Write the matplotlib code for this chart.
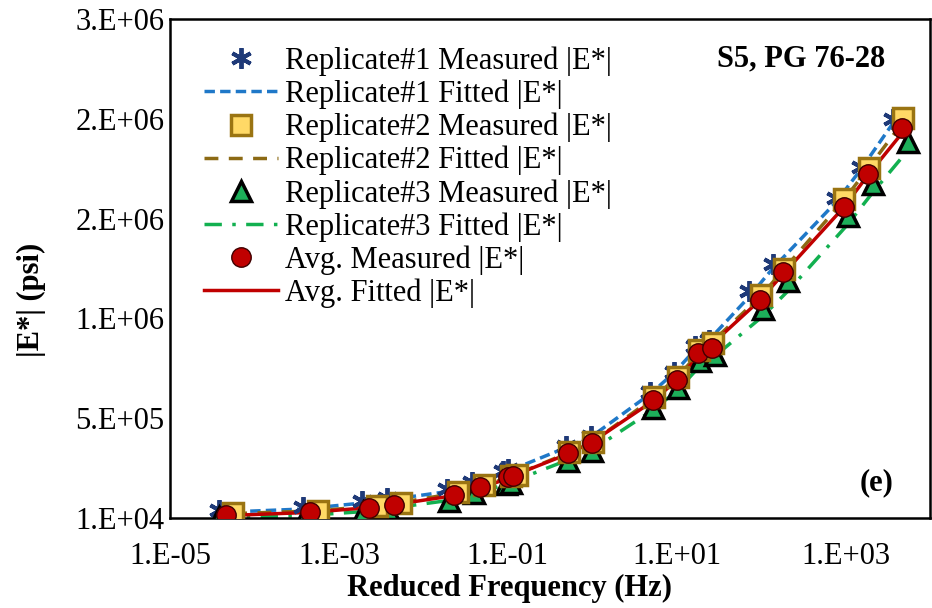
import matplotlib
matplotlib.use("Agg")
import matplotlib.pyplot as plt
from matplotlib.ticker import FixedLocator, FuncFormatter, NullLocator

plt.rcParams['font.family'] = ['Liberation Serif', 'DejaVu Serif']

# reduced frequency (Hz) and |E*| (psi)
f_avg = [4.6e-5, 4.5e-4, 2.26e-3, 4.5e-3, 2.3e-2, 4.7e-2, 0.100, 0.115, 0.51, 0.99,
         5.2, 10.0, 17.7, 26.0, 96.0, 180.0, 946.0, 1820.0, 4600.0]
E_avg = [25000, 40000, 60000, 75000, 125000, 165000, 215000, 220000, 335000, 385000,
         600000, 700000, 835000, 860000, 1100000, 1240000, 1570000, 1735000, 1965000]
E_avg_fit = [22000, 38000, 62000, 77000, 122000, 160000, 208000, 222000, 330000, 390000,
             595000, 700000, 815000, 880000, 1100000, 1230000, 1565000, 1725000, 1935000]

f_rep1 = [3.8e-5, 3.75e-4, 1.87e-3, 3.7e-3, 1.9e-2, 3.75e-2, 0.087, 0.100, 0.485, 0.96,
          4.8, 9.2, 16.3, 23.9, 71.0, 137.0, 762.0, 1510.0, 3600.0]
E_rep1 = [50000, 65000, 95000, 110000, 155000, 190000, 245000, 255000, 370000, 420000,
          640000, 740000, 870000, 900000, 1145000, 1285000, 1615000, 1770000, 2010000]
E_rep1_fit = [38000, 55000, 85000, 100000, 142000, 180000, 232000, 244000, 362000, 415000,
              630000, 735000, 850000, 900000, 1115000, 1260000, 1590000, 1755000, 1985000]

f_rep2 = [5.6e-5, 5.6e-4, 2.8e-3, 5.4e-3, 2.56e-2, 5.2e-2, 0.109, 0.128, 0.53, 1.01,
          5.35, 10.3, 18.2, 26.7, 98.6, 185.0, 946.0, 1870.0, 4730.0]
E_rep2 = [35000, 45000, 70000, 85000, 140000, 175000, 220000, 225000, 340000, 390000,
          615000, 715000, 850000, 885000, 1125000, 1260000, 1610000, 1765000, 2015000]
E_rep2_fit = [32000, 46000, 72000, 88000, 136000, 172000, 218000, 230000, 338000, 392000,
              612000, 718000, 835000, 895000, 1120000, 1255000, 1600000, 1765000, 1990000]

f_rep3 = [3.8e-5, 3.96e-4, 1.92e-3, 3.8e-3, 2.0e-2, 3.96e-2, 0.095, 0.109, 0.51, 0.99,
          5.2, 10.3, 18.7, 28.2, 104.0, 211.0, 1057.0, 2090.0, 5420.0]
E_rep3 = [15000, 20000, 40000, 55000, 95000, 135000, 180000, 185000, 295000, 345000,
          560000, 660000, 795000, 825000, 1055000, 1195000, 1525000, 1685000, 1895000]
E_rep3_fit = [12000, 22000, 42000, 57000, 98000, 132000, 178000, 190000, 300000, 350000,
              550000, 650000, 770000, 820000, 1020000, 1150000, 1480000, 1640000, 1850000]

x_ticks = [1e-5, 1e-3, 1e-1, 1e1, 1e3]
y_ticks = [1e4, 5.1e5, 1.01e6, 1.51e6, 2.01e6, 2.51e6]

fig = plt.figure(figsize=(9.32, 6.08), dpi=100)
ax = fig.add_axes([170/932, 90/608, 760/932, 499/608])

ax.plot(f_rep1, E_rep1, linestyle='', marker=(6, 2, 0), markersize=15, markeredgewidth=2.8,
        color='#1F3A78', label='Replicate#1 Measured |E*|', zorder=3)
ax.plot(f_rep1, E_rep1_fit, linestyle=(0, (3, 1.5)), linewidth=2.5, color='#1F78C8',
        label='Replicate#1 Fitted |E*|', zorder=2)
ax.plot(f_rep2, E_rep2, linestyle='', marker='s', markersize=15, markeredgewidth=2.5,
        markerfacecolor='#FFD966', markeredgecolor='#9A7412',
        label='Replicate#2 Measured |E*|', zorder=4)
ax.plot(f_rep2, E_rep2_fit, linestyle=(0, (4, 3)), linewidth=2.5, color='#8C6A14',
        label='Replicate#2 Fitted |E*|', zorder=2)
ax.plot(f_rep3, E_rep3, linestyle='', marker='^', markersize=15, markeredgewidth=2.5,
        markerfacecolor='#1DAF5A', markeredgecolor='black',
        label='Replicate#3 Measured |E*|', zorder=3)
ax.plot(f_rep3, E_rep3_fit, linestyle=(0, (5, 3, 1, 3)), linewidth=2.5, color='#12B050',
        label='Replicate#3 Fitted |E*|', zorder=2)
ax.plot(f_avg, E_avg, linestyle='', marker='o', markersize=14, markeredgewidth=1,
        markerfacecolor='#C00000', markeredgecolor='#400000',
        label='Avg. Measured |E*|', zorder=5)
ax.plot(f_avg, E_avg_fit, linestyle='-', linewidth=2.5, color='#C00000',
        label='Avg. Fitted |E*|', zorder=2)

ax.set_xscale('log')
ax.set_xlim(1e-5, 1e4)
ax.set_ylim(1e4, 2.51e6)
ax.xaxis.set_major_locator(FixedLocator(x_ticks))
ax.xaxis.set_minor_locator(NullLocator())
ax.yaxis.set_major_locator(FixedLocator(y_ticks))


def excel_sci(v, pos):
    m, e = ('%.0E' % v).split('E')
    return '%s.E%s%02d' % (m, e[0], abs(int(e)))


ax.xaxis.set_major_formatter(FuncFormatter(excel_sci))
ax.yaxis.set_major_formatter(FuncFormatter(excel_sci))
ax.tick_params(axis='both', length=0, labelsize=22)
ax.tick_params(axis='x', pad=17)
ax.tick_params(axis='y', pad=4)
for s in ax.spines.values():
    s.set_linewidth(1.8)
    s.set_color('black')

ax.set_xlabel('Reduced Frequency (Hz)', fontsize=22, fontweight='bold')
ax.xaxis.set_label_coords(0.447, -0.112)
ax.set_ylabel('|E*| (psi)', fontsize=22, fontweight='bold')
ax.yaxis.set_label_coords(-0.163, 0.437)

ax.text(0.83, 0.92, 'S5, PG 76-28', transform=ax.transAxes, fontsize=22,
        fontweight='bold', ha='center', va='center')
ax.text(0.93, 0.07, '(e)', transform=ax.transAxes, fontsize=22,
        fontweight='bold', ha='center', va='center')

ax.legend(loc='upper left', bbox_to_anchor=(0.045, 0.945), frameon=False, fontsize=22,
          handlelength=2.4, handletextpad=0.25, labelspacing=0.12, borderpad=0,
          borderaxespad=0)

plt.savefig('out.png', dpi=100)
